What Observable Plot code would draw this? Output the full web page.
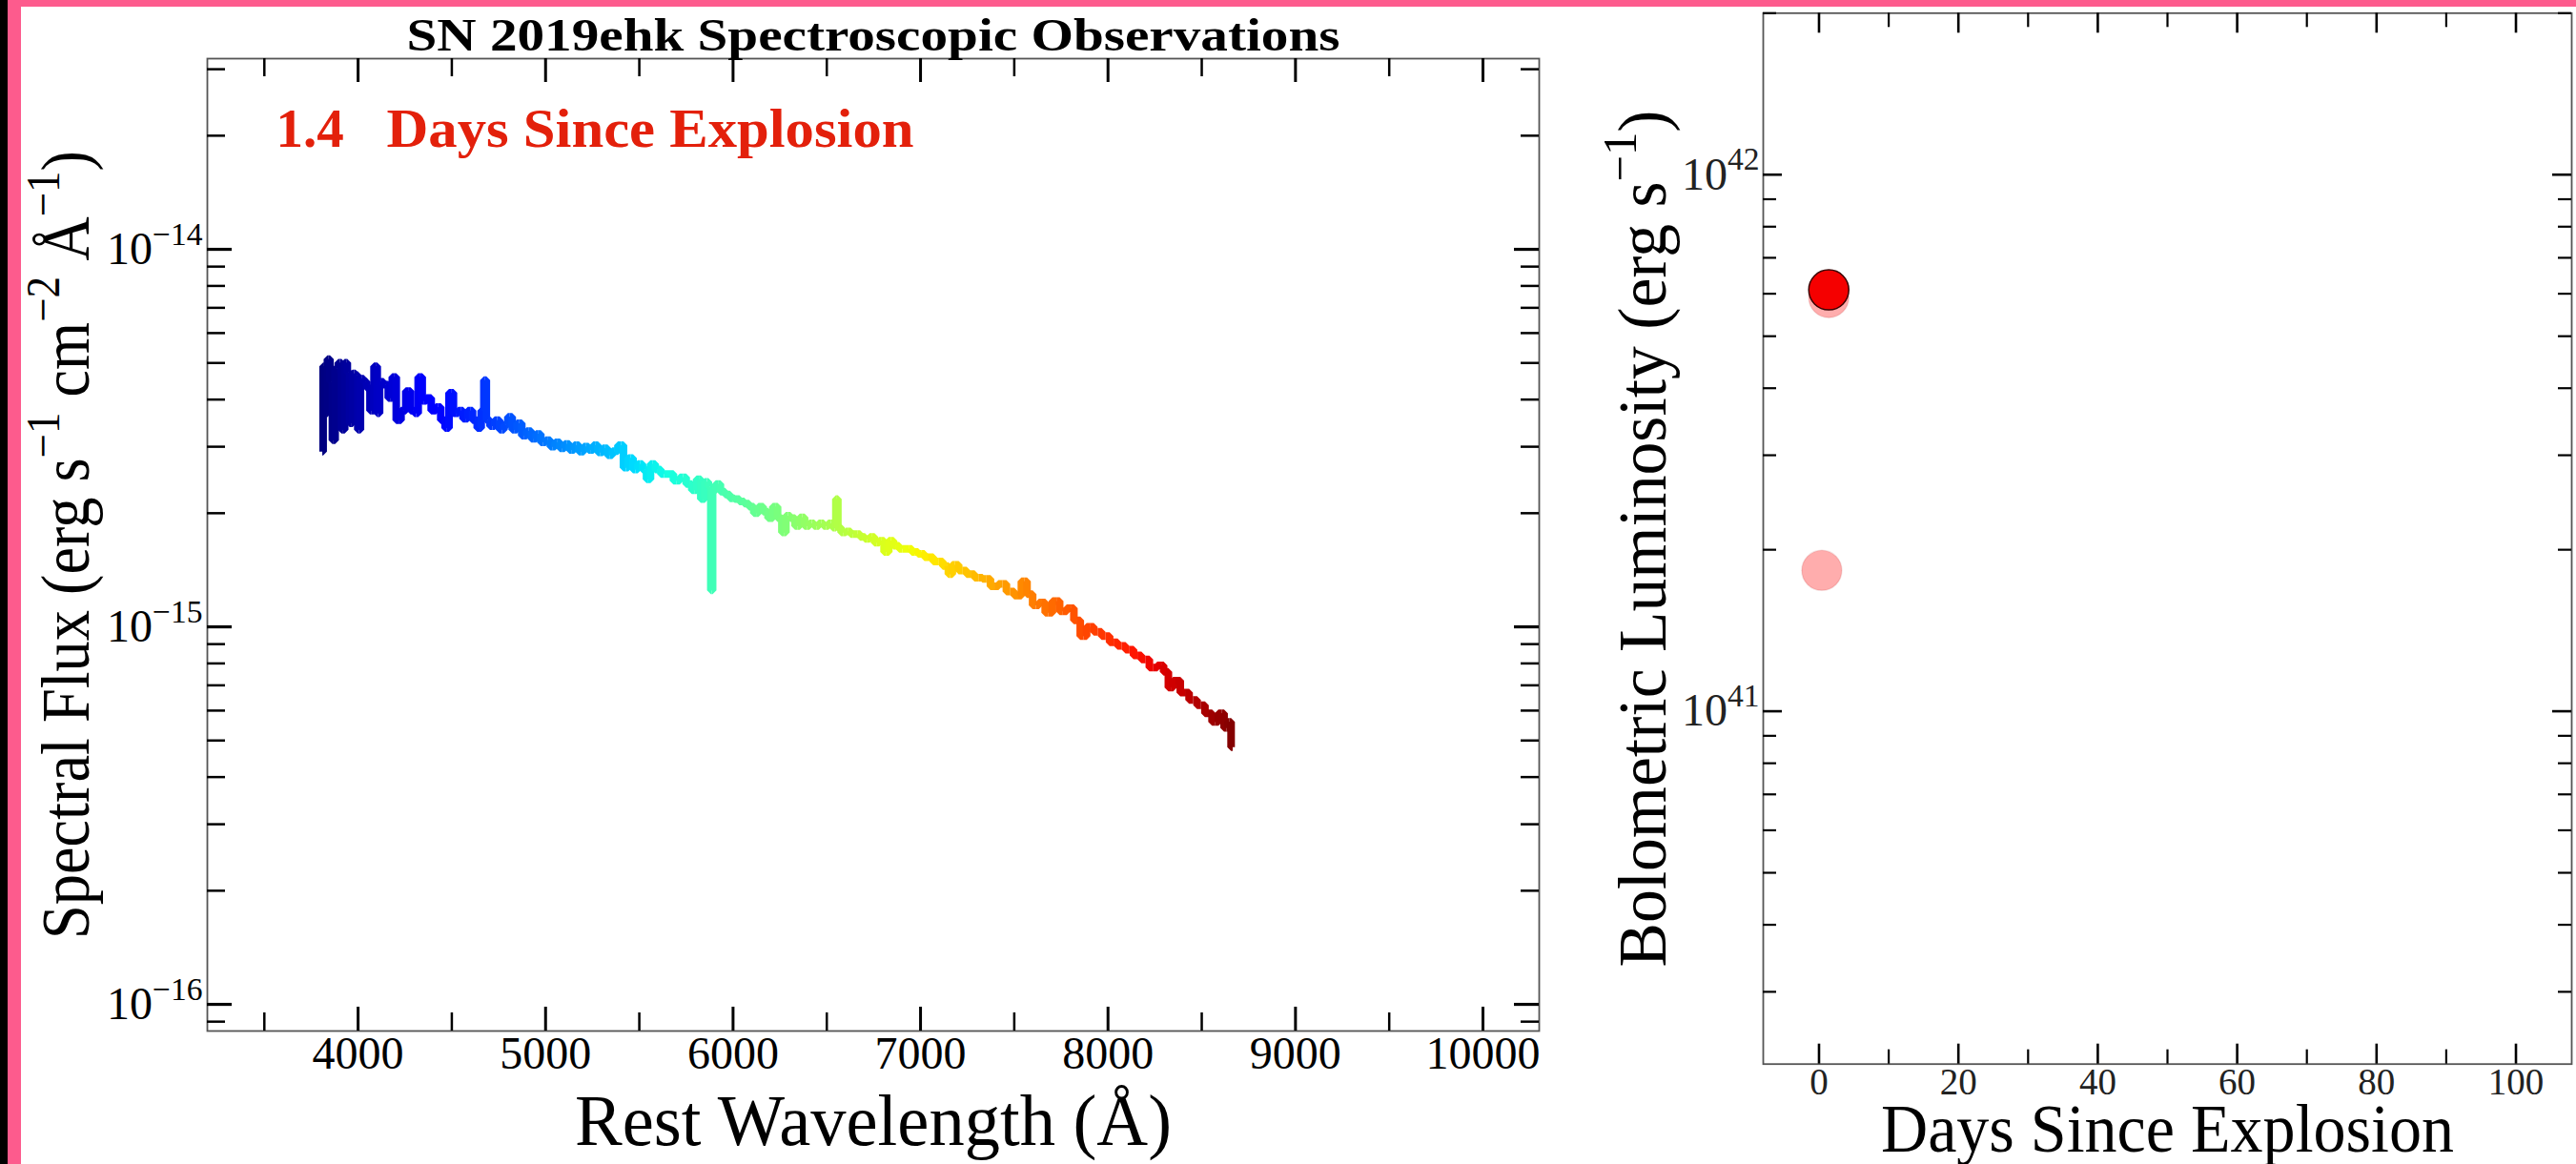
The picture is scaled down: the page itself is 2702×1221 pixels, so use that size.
<!DOCTYPE html>
<html>
<head>
<meta charset="utf-8">
<script src="https://cdn.jsdelivr.net/npm/d3@7"></script>
<script src="https://cdn.jsdelivr.net/npm/@observablehq/plot@0.6"></script>
<style>
  html, body { margin: 0; padding: 0; background: #fff; width: 2702px; height: 1221px; overflow: hidden; }
  body { position: relative; }
  #topbar { position: absolute; left: 8px; top: 0; width: 2694px; height: 7px; background: #fd5b8d; }
  #leftblack { position: absolute; left: 0; top: 0; width: 8px; height: 1221px; background: #000; }
  #leftpink { position: absolute; left: 8px; top: 0; width: 14px; height: 1221px; background: #fd5b8d; }
  #p1 { position: absolute; left: 22px; top: 7px; }
  #p2 { position: absolute; left: 1660px; top: 7px; }
  svg { overflow: visible; }
</style>
</head>
<body>
<div id="topbar"></div>
<div id="leftblack"></div>
<div id="leftpink"></div>
<div id="p1"></div>
<div id="p2"></div>
<script>
// ---------------- data ----------------
const title = "SN 2019ehk Spectroscopic Observations";
const currentDay = 1.4;
const phaseLabel = "Days Since Explosion";
const specXLabel = "Rest Wavelength (Å)";
const specYLabel = "Spectral Flux (erg s^{−1} cm^{−2} Å^{−1})";
const lcXLabel = "Days Since Explosion";
const lcYLabel = "Bolometric Luminosity (erg s^{−1})";

// rest wavelength (Å)
const wavelength = [
  3809,3818,3830,3843,3857,3869,3886,3903,3920,3937,3948,3962,3979,3993,4004,4021,4038,4055,4072,4098,
  4106,4123,4148,4174,4191,4216,4242,4267,4293,4309,4332,4352,4377,4403,4428,4454,4474,4496,4521,4547,
  4572,4598,4623,4648,4665,4677,4691,4716,4742,4767,4789,4809,4835,4860,4886,4911,4937,4962,4987,5013,
  5038,5064,5089,5114,5140,5165,5191,5216,5242,5267,5292,5318,5343,5369,5403,5428,5454,5479,5504,5530,
  5547,5572,5598,5632,5665,5699,5733,5767,5793,5818,5838,5860,5877,5886,5896,5920,5945,5971,5996,6021,
  6047,6072,6098,6123,6148,6174,6199,6225,6250,6271,6293,6318,6343,6369,6394,6420,6445,6470,6496,6521,
  6543,6554,6564,6589,6615,6640,6665,6691,6716,6742,6767,6793,6818,6843,6869,6903,6937,6970,7004,7038,
  7098,7140,7157,7182,7225,7267,7309,7352,7394,7437,7479,7521,7555,7581,7615,7648,7682,7725,7759,7801,
  7835,7869,7903,7945,7987,8030,8072,8115,8157,8199,8242,8284,8309,8335,8360,8411,8454,8496,8538,8572,
  8606,8632,8648,8665
];
// spectral flux, in units of 1e-15 erg s^-1 cm^-2 Å^-1
const fluxE15 = [
  2.91,4.90,3.68,5.12,4.46,3.12,4.83,5.01,3.33,5.01,4.72,3.46,4.69,4.64,3.33,4.54,4.46,4.29,3.74,4.90,
  3.68,4.46,4.38,4.04,4.59,3.53,3.74,4.21,3.74,3.68,4.59,3.97,4.04,3.74,3.82,3.53,3.36,4.17,3.68,3.74,
  3.56,3.74,3.53,3.36,3.74,4.50,3.53,3.40,3.53,3.33,3.43,3.60,3.33,3.46,3.21,3.30,3.15,3.24,3.08,3.12,
  3.00,3.08,2.97,3.05,2.94,3.03,2.91,3.00,2.94,3.03,2.90,2.97,2.85,2.92,3.03,2.64,2.80,2.61,2.70,2.61,
  2.46,2.70,2.61,2.54,2.54,2.44,2.49,2.39,2.30,2.46,2.18,2.42,2.35,1.25,2.30,2.39,2.28,2.24,2.19,2.18,
  2.15,2.12,2.08,2.00,2.08,2.02,1.94,2.08,1.94,1.78,1.97,1.94,1.85,1.95,1.85,1.88,1.85,1.88,1.85,1.88,
  1.83,2.18,1.83,1.78,1.79,1.76,1.76,1.73,1.71,1.73,1.67,1.69,1.58,1.69,1.64,1.61,1.61,1.58,1.56,1.53,
  1.49,1.45,1.38,1.46,1.41,1.38,1.35,1.34,1.28,1.30,1.24,1.21,1.32,1.22,1.14,1.16,1.09,1.17,1.10,1.12,
  1.04,0.945,1.00,0.97,0.945,0.91,0.89,0.87,0.84,0.82,0.78,0.79,0.76,0.69,0.72,0.67,0.64,0.62,0.59,0.56,
  0.59,0.54,0.56,0.48
];

const specXMajor = [4000, 5000, 6000, 7000, 8000, 9000, 10000];
const specXMinor = [3500, 4500, 5500, 6500, 7500, 8500, 9500];
const specYMajor = [1e-16, 1e-15, 1e-14];
const specYMinor = [9e-17, 2e-16, 3e-16, 4e-16, 5e-16, 6e-16, 7e-16, 8e-16, 9e-16,
                    2e-15, 3e-15, 4e-15, 5e-15, 6e-15, 7e-15, 8e-15, 9e-15, 2e-14, 3e-14];

// bolometric light curve
const lcDays = [0.4, 1.4];
const lcLum = [1.83e41, 5.9e41];
const currentLum = 6.1e41;
const lcXMajor = [0, 20, 40, 60, 80, 100];
const lcXMinor = [10, 30, 50, 70, 90];
const lcYMajor = [1e41, 1e42];
const lcYMinor = [3e40, 4e40, 5e40, 6e40, 7e40, 8e40, 9e40,
                  2e41, 3e41, 4e41, 5e41, 6e41, 7e41, 8e41, 9e41, 2e42];

// ---------------- helpers ----------------
function jet(t) {
  const seg = (pts) => {
    for (let i = 1; i < pts.length; i++) {
      if (t <= pts[i][0]) {
        const [t0, v0] = pts[i - 1], [t1, v1] = pts[i];
        return v0 + (v1 - v0) * (t - t0) / (t1 - t0);
      }
    }
    return pts[pts.length - 1][1];
  };
  const r = seg([[0, 0], [0.35, 0], [0.66, 1], [0.89, 1], [1, 0.5]]);
  const g = seg([[0, 0], [0.125, 0], [0.375, 1], [0.64, 1], [0.91, 0], [1, 0]]);
  const b = seg([[0, 0.5], [0.11, 1], [0.34, 1], [0.65, 0], [1, 0]]);
  return `rgb(${Math.round(r * 255)},${Math.round(g * 255)},${Math.round(b * 255)})`;
}
const pow10 = (d) => `10^{${String(Math.round(Math.log10(d))).replace("-", "−")}}`;

function supify(svg) {
  const NS = "http://www.w3.org/2000/svg";
  svg.querySelectorAll("text").forEach((t) => {
    const s = t.textContent;
    if (!s.includes("^{") || t.querySelector("tspan")) return;
    const fs = parseFloat(getComputedStyle(t).fontSize);
    const shift = fs * 0.42;
    t.textContent = "";
    const parts = s.split(/(\^\{[^}]*\})/).filter((p) => p);
    let raised = false;
    for (const p of parts) {
      const ts = document.createElementNS(NS, "tspan");
      if (p.startsWith("^{")) {
        ts.textContent = p.slice(2, -1);
        ts.setAttribute("font-size", (fs * 0.7).toFixed(1));
        ts.setAttribute("dy", (-shift).toFixed(1));
        raised = true;
      } else {
        ts.textContent = p;
        if (raised) ts.setAttribute("dy", shift.toFixed(1));
        raised = false;
      }
      t.appendChild(ts);
    }
  });
}
// pin the drawn length of a text to the reference length
function fit(svg, startsWith, length) {
  svg.querySelectorAll("text").forEach((t) => {
    if (t.textContent.startsWith(startsWith)) {
      t.setAttribute("textLength", length);
      t.setAttribute("lengthAdjust", "spacingAndGlyphs");
    }
  });
}

// ---------------- spectrum panel ----------------
const spec = wavelength.map((w, i) => ({w, f: fluxE15[i] * 1e-15}));
const W1 = 1620, H1 = 1214;
const m1 = {top: 54, right: 28, bottom: 140, left: 195};
const iw1 = W1 - m1.left - m1.right, ih1 = H1 - m1.top - m1.bottom;
const font = "'Liberation Serif', 'DejaVu Serif', serif";

const plot1 = Plot.plot({
  width: W1, height: H1,
  marginTop: m1.top, marginRight: m1.right, marginBottom: m1.bottom, marginLeft: m1.left,
  style: {fontFamily: font, background: "transparent", color: "#000"},
  x: {domain: [3196, 10300]},
  y: {type: "log", domain: [8.5e-17, 3.2e-14]},
  color: {type: "linear", domain: [wavelength[0], wavelength[wavelength.length - 1]], interpolate: jet},
  marks: [
    Plot.frame({stroke: "#555", strokeWidth: 1.8}),
    Plot.tickX(specXMajor, {x: (d) => d, insetTop: ih1 - 25, strokeWidth: 3, stroke: "#000"}),
    Plot.tickX(specXMajor, {x: (d) => d, insetBottom: ih1 - 25, strokeWidth: 3, stroke: "#000"}),
    Plot.tickX(specXMinor, {x: (d) => d, insetTop: ih1 - 19, strokeWidth: 2.5, stroke: "#000"}),
    Plot.tickX(specXMinor, {x: (d) => d, insetBottom: ih1 - 19, strokeWidth: 2.5, stroke: "#000"}),
    Plot.tickY(specYMajor, {y: (d) => d, insetRight: iw1 - 26, strokeWidth: 3.2, stroke: "#000"}),
    Plot.tickY(specYMajor, {y: (d) => d, insetLeft: iw1 - 26, strokeWidth: 3.2, stroke: "#000"}),
    Plot.tickY(specYMinor, {y: (d) => d, insetRight: iw1 - 19, strokeWidth: 2.5, stroke: "#000"}),
    Plot.tickY(specYMinor, {y: (d) => d, insetLeft: iw1 - 19, strokeWidth: 2.5, stroke: "#000"}),
    Plot.axisX({anchor: "bottom", ticks: specXMajor, tickSize: 0, tickPadding: 5, tickFormat: (d) => String(d), label: null, fontSize: 48}),
    Plot.axisY({anchor: "left", ticks: specYMajor, tickSize: 0, tickPadding: 5, tickFormat: pow10, label: null, fontSize: 48}),
    Plot.line(spec, {x: "w", y: "f", z: null, stroke: "w", strokeWidth: 8, curve: "step", strokeLinejoin: "miter", strokeLinecap: "butt"}),
    Plot.text([title], {frameAnchor: "top", text: (d) => d, dy: -24, fontSize: 48, fontWeight: "bold", lineAnchor: "middle", textAnchor: "middle", fill: "#000"}),
    Plot.text([currentDay], {frameAnchor: "top-left", text: (d) => d.toFixed(1), dx: 72, dy: 74, textAnchor: "start", lineAnchor: "middle", fontSize: 57, fontWeight: "bold", fill: "#e3200b"}),
    Plot.text([phaseLabel], {frameAnchor: "top-left", text: (d) => d, dx: 188, dy: 74, textAnchor: "start", lineAnchor: "middle", fontSize: 57, fontWeight: "bold", fill: "#e3200b"}),
    Plot.text([specXLabel], {frameAnchor: "bottom", text: (d) => d, dy: 95, fontSize: 76, lineAnchor: "middle", textAnchor: "middle", fill: "#000"}),
    Plot.text([specYLabel], {frameAnchor: "left", text: (d) => d, dx: -148, rotate: -90, fontSize: 72, lineAnchor: "middle", textAnchor: "middle", fill: "#000"})
  ]
});
document.getElementById("p1").appendChild(plot1);
supify(plot1);
fit(plot1, "SN 2019ehk", 979);
fit(plot1, "Days Since", 553);
fit(plot1, "Rest Wave", 626);
fit(plot1, "Spectral Flux", 827);

// ---------------- light-curve panel ----------------
const lc = lcDays.map((d, i) => ({day: d, lum: lcLum[i]}));
const W2 = 1042, H2 = 1214;
const m2 = {top: 6.3, right: 5, bottom: 105.3, left: 189};
const iw2 = W2 - m2.left - m2.right, ih2 = H2 - m2.top - m2.bottom;

const plot2 = Plot.plot({
  width: W2, height: H2,
  marginTop: m2.top, marginRight: m2.right, marginBottom: m2.bottom, marginLeft: m2.left,
  style: {fontFamily: font, background: "transparent", color: "#000"},
  x: {domain: [-8, 108]},
  y: {type: "log", domain: [2.2e40, 2e42]},
  marks: [
    Plot.frame({stroke: "#555", strokeWidth: 1.8}),
    Plot.tickX(lcXMajor, {x: (d) => d, insetTop: ih2 - 21, strokeWidth: 2.6, stroke: "#000"}),
    Plot.tickX(lcXMajor, {x: (d) => d, insetBottom: ih2 - 21, strokeWidth: 2.6, stroke: "#000"}),
    Plot.tickX(lcXMinor, {x: (d) => d, insetTop: ih2 - 15, strokeWidth: 2.2, stroke: "#000"}),
    Plot.tickX(lcXMinor, {x: (d) => d, insetBottom: ih2 - 15, strokeWidth: 2.2, stroke: "#000"}),
    Plot.tickY(lcYMajor, {y: (d) => d, insetRight: iw2 - 20, strokeWidth: 2.6, stroke: "#000"}),
    Plot.tickY(lcYMajor, {y: (d) => d, insetLeft: iw2 - 20, strokeWidth: 2.6, stroke: "#000"}),
    Plot.tickY(lcYMinor, {y: (d) => d, insetRight: iw2 - 14, strokeWidth: 2.2, stroke: "#000"}),
    Plot.tickY(lcYMinor, {y: (d) => d, insetLeft: iw2 - 14, strokeWidth: 2.2, stroke: "#000"}),
    Plot.axisX({anchor: "bottom", ticks: lcXMajor, tickSize: 0, tickPadding: 4, tickFormat: (d) => String(d), label: null, fontSize: 39, fill: "#222"}),
    Plot.axisY({anchor: "left", ticks: lcYMajor, tickSize: 0, tickPadding: 4, tickFormat: pow10, label: null, fontSize: 48, fill: "#222"}),
    Plot.dot(lc, {x: "day", y: "lum", r: 21, fill: "red", fillOpacity: 0.32, stroke: "#b00000", strokeOpacity: 0.12, strokeWidth: 1.5}),
    Plot.dot([{day: currentDay, lum: currentLum}], {x: "day", y: "lum", r: 21, fill: "#f50000", stroke: "#3a0000", strokeWidth: 1.5}),
    Plot.text([lcXLabel], {frameAnchor: "bottom", text: (d) => d, dy: 69, fontSize: 72, lineAnchor: "middle", textAnchor: "middle", fill: "#000"}),
    Plot.text([lcYLabel], {frameAnchor: "left", text: (d) => d, dx: -126, rotate: -90, fontSize: 72, lineAnchor: "middle", textAnchor: "middle", fill: "#000"})
  ]
});
document.getElementById("p2").appendChild(plot2);
supify(plot2);
fit(plot2, "Days Since", 601);
fit(plot2, "Bolometric", 899);
</script>
</body>
</html>
